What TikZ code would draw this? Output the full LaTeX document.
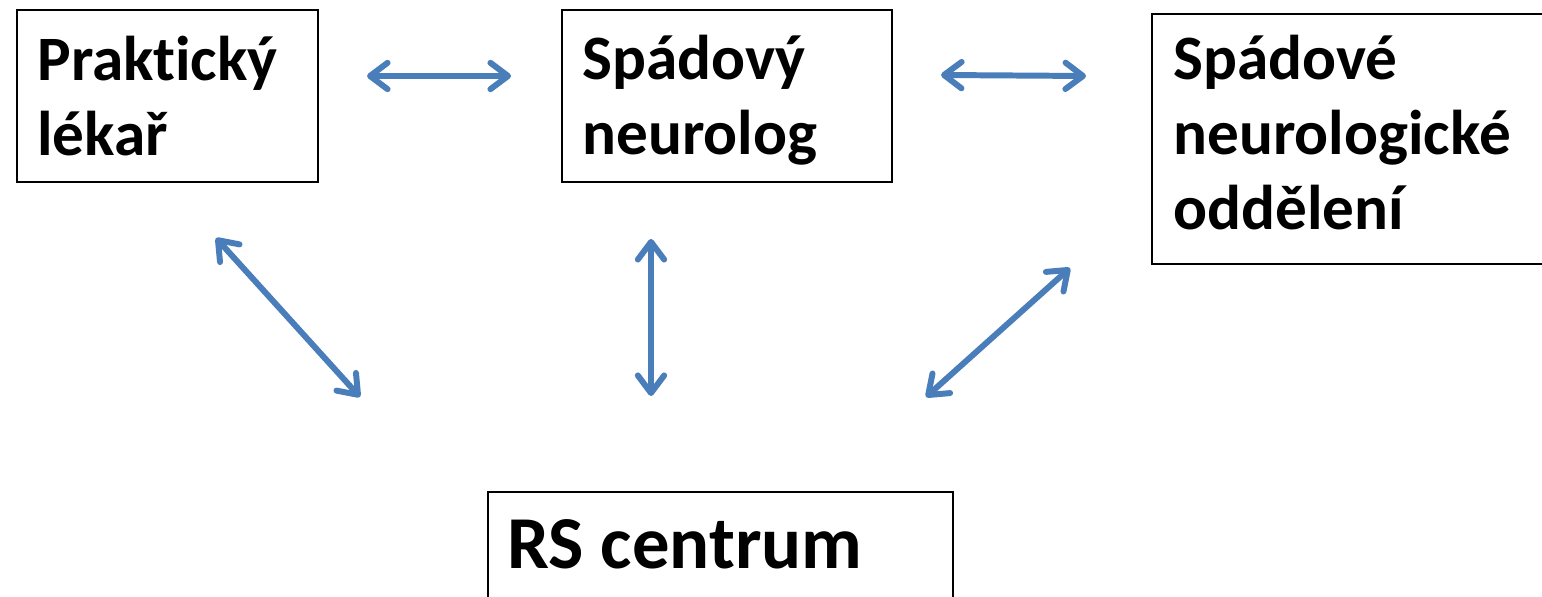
\documentclass[tikz,border=0pt]{standalone}
\usepackage{fontspec}
\setmainfont{Carlito}[Ligatures=NoCommon]
\usetikzlibrary{positioning, arrows.meta}

\definecolor{linkblue}{RGB}{74,126,187}

\tikzset{
  box/.style={draw, line width=1.1pt, anchor=north west, inner sep=0pt},
  boxtext/.style={anchor=north west, align=left, inner sep=0pt, font=\fontsize{36}{42.5}\selectfont\bfseries},
  bigtext/.style={anchor=north west, align=left, inner sep=0pt, font=\fontsize{42.5}{51}\selectfont\bfseries},
  link/.style={linkblue, line width=3.4pt, line cap=round,
    {Straight Barb[round, length=10pt, width=15pt]}-{Straight Barb[round, length=10pt, width=15pt]}}
}

\begin{document}
\begin{tikzpicture}[x=0.02cm, y=-0.02cm]
\clip (0,0) rectangle (1542,597);

% boxes
\node[box, minimum width=6.02cm, minimum height=3.44cm] (prakt) at (16,9) {};
\node[box, minimum width=6.6cm, minimum height=3.44cm] (neuro) at (561,9) {};
\node[box, minimum width=9cm, minimum height=5cm] (oddel) at (1151,13) {};
\node[box, minimum width=9.3cm, minimum height=3cm] (rscen) at (487,491) {};

% texts
\node[boxtext] (praktT) at (37,36) {Praktický\\lékař};
\node[boxtext] (neuroT) at (582,35) {Spádový\\neurolog};
\node[boxtext] (oddelT) at (1173,35) {Spádové\\neurologické\\oddělení};
\node[bigtext] (rscenT) at (507,519) {RS centrum};

% arrow ends
\coordinate (praktE) at (367,76);
\coordinate (neuroW) at (511,76);
\coordinate (neuroE) at (941,75);
\coordinate (oddelW) at (1086,76);
\coordinate (praktS) at (216,238);
\coordinate (rscenNW) at (360,397);
\coordinate (neuroS) at (651,239);
\coordinate (rscenN) at (651,396);
\coordinate (oddelS) at (1070,268);
\coordinate (rscenNE) at (926,397);

\draw[link] (praktE) -- (neuroW);
\draw[link] (neuroE) -- (oddelW);
\draw[link] (praktS) -- (rscenNW);
\draw[link] (neuroS) -- (rscenN);
\draw[link] (oddelS) -- (rscenNE);
\end{tikzpicture}
\end{document}
